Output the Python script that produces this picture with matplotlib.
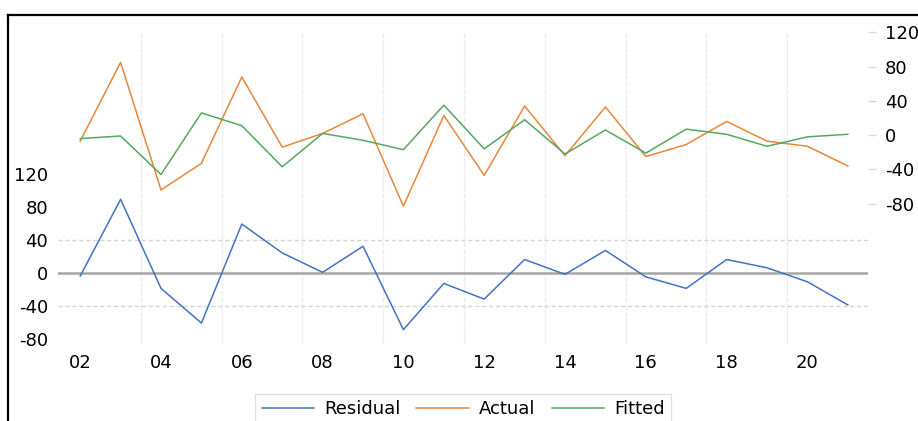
import matplotlib
matplotlib.use("Agg")
import matplotlib.pyplot as plt
from matplotlib.lines import Line2D

# data
years = list(range(2002, 2022))
residual = [-4, 89, -19, -61, 59, 24, 0.5, 32, -69, -13,
            -32, 16, -2, 27, -5, -19, 16, 6, -11, -39]
actual = [-7, 85, -64, -33, 68, -14, 2, 25, -83, 23,
          -47, 34, -24, 33, -25, -11, 16, -7, -13, -36]
fitted = [-4, -1, -46, 26, 11, -37, 2, -6, -17, 35,
          -16, 18, -22, 6, -21, 7, 1, -13, -2, 1]
tick_years = list(range(2002, 2021, 2))
tick_labels = [f"{y % 100:02d}" for y in tick_years]
res_ticks = [-80, -40, 0, 40, 80, 120]
fit_ticks = [-80, -40, 0, 40, 80, 120]

blue = "#4472C4"
orange = "#E8873A"
green = "#55A860"

plt.rcParams['font.family'] = ['DejaVu Sans']
plt.rcParams['font.size'] = 13
plt.rcParams['axes.unicode_minus'] = False

W, H = 918, 421
fig = plt.figure(figsize=(W / 100, H / 100), dpi=100)
ax = fig.add_axes([58 / W, 1 - 344 / H, (868 - 58) / W, (344 - 32) / H])
ax2 = ax.twinx()

# grid
for g in range(2003, 2021, 2):
    ax.axvline(g + 0.5, color="#EBEBEB", lw=1, ls=(0, (4, 1)), zorder=0)
for g in (-40, 40):
    ax.axhline(g, color="#D4D4D4", lw=1, ls=(0, (3, 2)), zorder=0)
ax.axhline(0, color="#A6A6A6", lw=1.8, zorder=1)

l1, = ax.plot(years, residual, color=blue, lw=1.1, label="Residual")
l2, = ax2.plot(years, actual, color=orange, lw=1.1, label="Actual")
l3, = ax2.plot(years, fitted, color=green, lw=1.1, label="Fitted")

ax.set_xlim(2001.45, 2021.5)
ax.set_ylim(-86.4, 291.8)
ax2.set_ylim(-244, 120.5)

ax.set_xticks(tick_years)
ax.set_xticklabels(tick_labels)
ax.set_yticks(res_ticks)
ax2.set_yticks(fit_ticks)
ax.tick_params(axis="x", length=0, pad=7)
ax.tick_params(axis="y", length=0, pad=7)
ax2.tick_params(axis="y", length=6, width=1, color="#D9D9D9", pad=6)

for a in (ax, ax2):
    for s in a.spines.values():
        s.set_visible(False)

fig.legend(handles=[l1, l2, l3], loc="upper center", ncol=3,
           bbox_to_anchor=(463 / W, 1 - 394 / H), borderaxespad=0,
           frameon=True, fancybox=False, edgecolor="#D9D9D9",
           handlelength=2.9, handletextpad=0.55, columnspacing=0.9,
           borderpad=0.35, fontsize=13)

# outer frame (top and left edges)
fig.add_artist(Line2D([8 / W, 1], [1 - 15 / H, 1 - 15 / H], transform=fig.transFigure,
                      color="black", lw=1.6))
fig.add_artist(Line2D([8 / W, 8 / W], [0, 1 - 15 / H], transform=fig.transFigure,
                      color="black", lw=1.6))

fig.savefig("out.png", dpi=100)
